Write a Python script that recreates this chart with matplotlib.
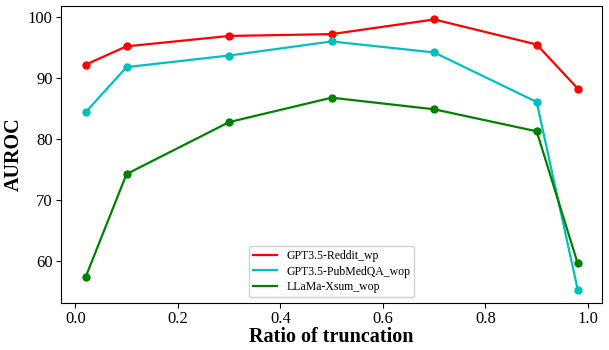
import matplotlib
matplotlib.use('Agg')
import matplotlib.pyplot as plt

plt.rcParams['font.family'] = ['Liberation Serif', 'DejaVu Serif']

ratios = [0.02, 0.1, 0.3, 0.5, 0.7, 0.9, 0.98]
reddit_wp = [92.2, 95.2, 96.9, 97.2, 99.6, 95.5, 88.3]
pubmedqa_wop = [84.4, 91.8, 93.7, 96.0, 94.2, 86.1, 55.4]
xsum_wop = [57.4, 74.3, 82.8, 86.8, 84.9, 81.3, 59.7]

fig = plt.figure(figsize=(6.09, 3.5), dpi=100)
ax = fig.add_axes([0.100, 0.134, 0.889, 0.849])

ax.plot(ratios, reddit_wp, color='red', lw=1.6, marker='o', ms=5, label='GPT3.5-Reddit_wp')
ax.plot(ratios, pubmedqa_wop, color='c', lw=1.6, marker='o', ms=5, label='GPT3.5-PubMedQA_wop')
ax.plot(ratios, xsum_wop, color='green', lw=1.6, marker='o', ms=5, label='LLaMa-Xsum_wop')

ax.set_xlabel('Ratio of truncation', fontsize=14.5, fontweight='bold', labelpad=0)
ax.set_ylabel('AUROC', fontsize=14.5, fontweight='bold', labelpad=3)
ax.tick_params(labelsize=12, pad=2.5)
leg = ax.legend(loc='lower center', fontsize=8.5, labelspacing=0.3, borderpad=0.35,
                framealpha=0.9)
for h in leg.get_lines():
    h.set_marker('')

fig.savefig('out.png', dpi=100)
